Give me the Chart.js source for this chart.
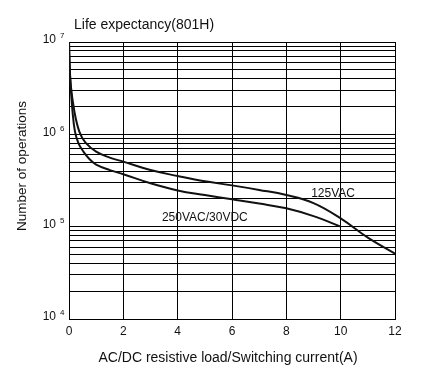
<!DOCTYPE html>
<html>
<head>
<meta charset="utf-8">
<script src="https://cdn.jsdelivr.net/npm/chart.js@4"></script>
<style>
  body { margin: 0; background: #fff; }
  canvas { display: block; }
</style>
</head>
<body>
<canvas id="lifeChart" width="429" height="381"></canvas>
<script>
// switching current (A) vs number of operations
const current125 = [0, 0.02, 0.06, 0.2, 0.38, 0.6, 1, 1.5, 2, 3, 4, 5, 6, 7, 8, 9, 10, 11, 12];
const ops125 = [1e7, 6e6, 3.5e6, 1.76e6, 1.07e6, 8.2e5, 6.5e5, 5.6e5, 5.06e5, 4.1e5, 3.54e5, 3.1e5, 2.8e5, 2.5e5, 2.2e5, 1.8e5, 1.23e5, 7.6e4, 5.1e4];

const current250 = [0, 0.02, 0.06, 0.13, 0.22, 0.35, 0.53, 0.75, 1, 1.5, 2, 3, 4, 5, 6, 7, 8, 9, 10];
const ops250 = [1e7, 6e6, 3.4e6, 1.76e6, 1.07e6, 8e5, 6.5e5, 5.4e5, 4.7e5, 4.1e5, 3.7e5, 2.95e5, 2.47e5, 2.2e5, 1.98e5, 1.78e5, 1.58e5, 1.3e5, 1.0e5];

const xTicks = [0, 2, 4, 6, 8, 10, 12];
const decades = [4, 5, 6, 7];
const seriesNames = ["125VAC", "250VAC/30VDC"];

const FONT = "Liberation Sans, Arial, sans-serif";

function toPoints(xs, ys) {
    return xs.map((x, i) => ({ x: x, y: ys[i] }));
}

// 1..9 x 10^n gridlines for each decade
const yGrid = [];
decades.forEach(d => {
    if (d === decades[decades.length - 1]) {
        yGrid.push(Math.pow(10, d));
        return;
    }
    for (let m = 1; m <= 9; m++) yGrid.push(m * Math.pow(10, d));
});

const textPlugin = {
    id: "textPlugin",
    afterDraw(chart) {
        const ctx = chart.ctx;
        const area = chart.chartArea;
        const xs = chart.scales.x, ys = chart.scales.y;
        ctx.save();
        ctx.fillStyle = "#111";
        ctx.textBaseline = "middle";

        // title
        ctx.font = "14px " + FONT;
        ctx.textAlign = "left";
        ctx.fillText("Life expectancy(801H)", area.left + 5, 25);

        // x axis title
        ctx.textAlign = "center";
        ctx.fillText("AC/DC resistive load/Switching current(A)", 228, 358);

        // y axis title
        ctx.save();
        ctx.font = "13.5px " + FONT;
        ctx.translate(22, 166);
        ctx.rotate(-Math.PI / 2);
        ctx.textAlign = "center";
        ctx.fillText("Number of operations", 0, 0);
        ctx.restore();

        // y tick labels 10^n
        decades.forEach(d => {
            const py = ys.getPixelForValue(Math.pow(10, d));
            ctx.font = "12px " + FONT;
            ctx.textAlign = "right";
            ctx.fillText("10", area.left - 13, py - 2);
            ctx.font = "8px " + FONT;
            ctx.textAlign = "left";
            ctx.fillText(String(d), area.left - 9, py - 6);
        });

        // curve labels
        ctx.font = "12px " + FONT;
        ctx.textAlign = "center";
        ctx.fillText(seriesNames[0], xs.getPixelForValue(9.72), ys.getPixelForValue(2.26e5));
        ctx.fillText(seriesNames[1], xs.getPixelForValue(5.0), ys.getPixelForValue(1.25e5));
        ctx.restore();
    }
};

const ctx = document.getElementById("lifeChart").getContext("2d");
new Chart(ctx, {
    type: "line",
    data: {
        datasets: [{
            label: seriesNames[0],
            data: toPoints(current125, ops125),
            borderColor: "#111",
            borderWidth: 2,
            pointRadius: 0,
            fill: false,
            tension: 0.4
        }, {
            label: seriesNames[1],
            data: toPoints(current250, ops250),
            borderColor: "#111",
            borderWidth: 2,
            pointRadius: 0,
            fill: false,
            tension: 0.4
        }]
    },
    options: {
        responsive: false,
        animation: false,
        layout: { padding: { left: 0, top: 42, right: 34, bottom: 0 } },
        plugins: {
            legend: { display: false },
            title: { display: false },
            tooltip: { enabled: false }
        },
        scales: {
            x: {
                type: "linear",
                min: 0,
                max: 12,
                afterBuildTicks(scale) {
                    scale.ticks = xTicks.map(v => ({ value: v }));
                },
                afterFit(scale) { scale.height = 62; },
                grid: { color: "#000", lineWidth: 1, drawTicks: false },
                border: { color: "#000", width: 1 },
                ticks: {
                    color: "#111",
                    padding: 5,
                    maxRotation: 0,
                    font: { family: FONT, size: 12 }
                }
            },
            y: {
                type: "logarithmic",
                min: 1e4,
                max: 1e7,
                afterBuildTicks(scale) {
                    scale.ticks = yGrid.map(v => ({ value: v }));
                },
                afterFit(scale) { scale.width = 69; },
                grid: { color: "#000", lineWidth: 1, drawTicks: false },
                border: { color: "#000", width: 1 },
                ticks: { display: false }
            }
        }
    },
    plugins: [textPlugin]
});
</script>
</body>
</html>
